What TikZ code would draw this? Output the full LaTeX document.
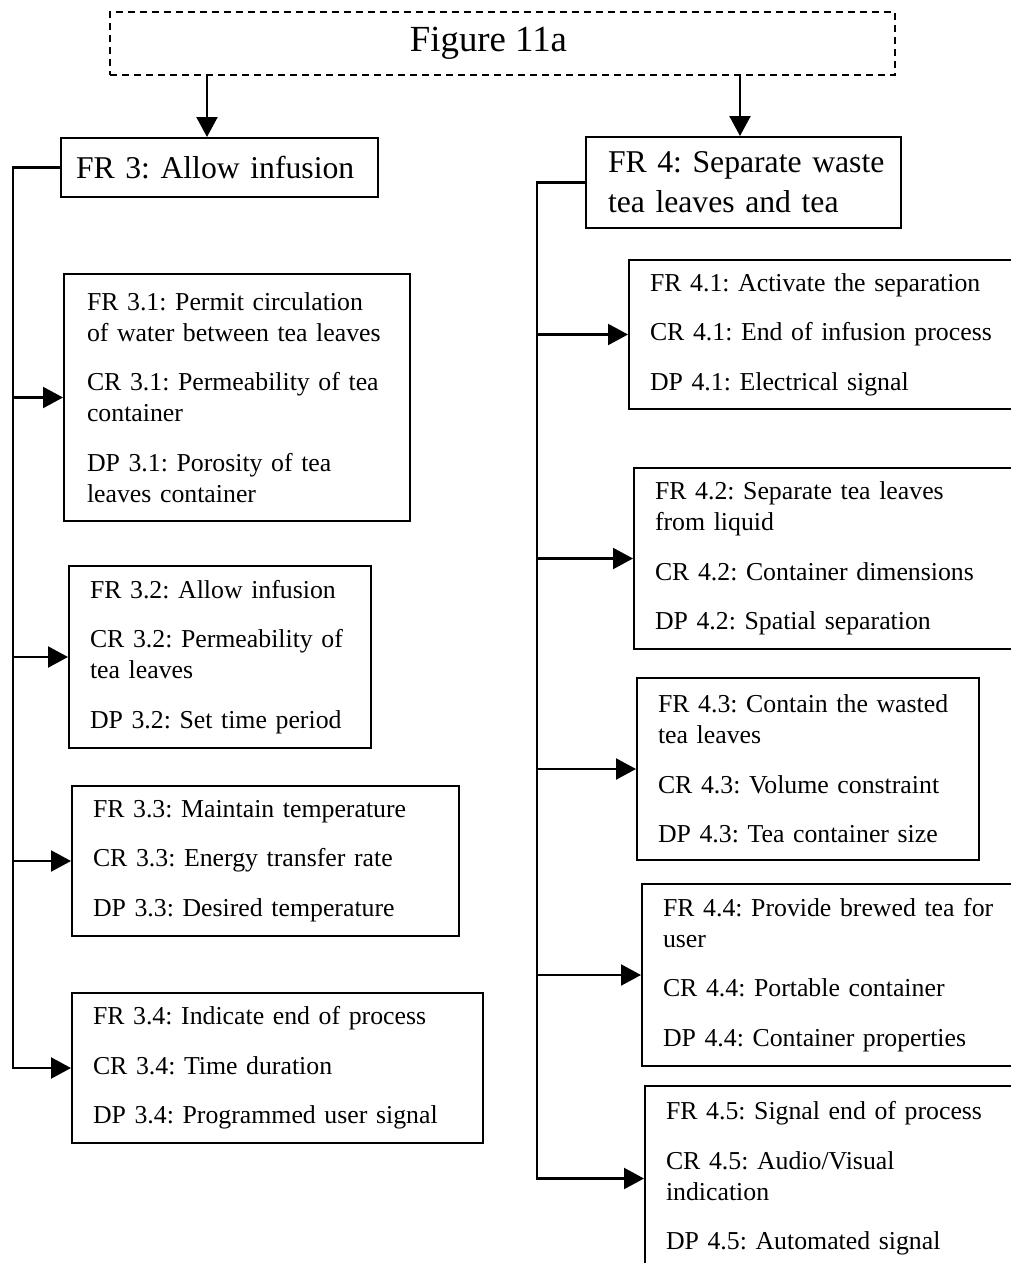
\documentclass[tikz,border=0pt]{standalone}
\usepackage{fontspec}
\setmainfont{Liberation Serif}
\usetikzlibrary{arrows.meta}
\newcommand\boxfont{\fontsize{25.8}{31}\selectfont\frenchspacing}
\newcommand\headfont{\fontsize{31.7}{40}\selectfont\frenchspacing}
\newcommand\titlefont{\fontsize{36.8}{44}\selectfont}
\newcommand\pgap{\\[18.5pt]}
\begin{document}
\begin{tikzpicture}[x=1pt,y=-1pt,
  wire/.style={line width=2.2pt},
  arr/.style={wire,-{Triangle[length=20pt,width=21pt]}},
  frame/.style={draw,line width=2pt,anchor=north west,align=left,inner ysep=0pt},
  req/.style={frame,inner xsep=21pt,font=\boxfont},
  head/.style={frame,font=\headfont}]
\useasboundingbox (0,0) rectangle (1011,1263);
\clip (0,0) rectangle (1011,1263);

% top-level heading
\node[draw,line width=2pt,dash pattern=on 7pt off 5pt,minimum width=785pt,
      minimum height=63pt,inner sep=0pt,font=\titlefont] (title) at (502.5,43.5)
      {\hspace*{-28pt}Figure 11a};

% second-level requirements
\node[head,inner xsep=15pt,text width=287pt,minimum height=59pt] (fr3) at (60,137)
  {\mbox{FR 3: Allow infusion}};
\node[head,inner xsep=22pt,text width=271pt,minimum height=91pt] (fr4) at (585,136)
  {\mbox{FR 4: Separate waste}\\tea leaves and tea};

% FR 3 branch
\node[req,inner xsep=23pt,text width=300pt,minimum height=247pt] (n31) at (63,273)
  {\mbox{FR 3.1: Permit circulation}\\\mbox{of water between tea leaves}\pgap
   \mbox{CR 3.1: Permeability of tea}\\container\pgap
   \mbox{DP 3.1: Porosity of tea}\\leaves container};
\node[req,text width=260pt,minimum height=182pt] (n32) at (68,565)
  {\mbox{FR 3.2: Allow infusion}\pgap
   \mbox{CR 3.2: Permeability of}\\tea leaves\pgap
   \mbox{DP 3.2: Set time period}};
\node[req,text width=345pt,minimum height=150pt] (n33) at (71,785)
  {\mbox{FR 3.3: Maintain temperature}\pgap
   \mbox{CR 3.3: Energy transfer rate}\pgap
   \mbox{DP 3.3: Desired temperature}};
\node[req,text width=369pt,minimum height=150pt] (n34) at (71,992)
  {\mbox{FR 3.4: Indicate end of process}\pgap
   \mbox{CR 3.4: Time duration}\pgap
   \mbox{DP 3.4: Programmed user signal}};

% FR 4 branch
\node[req,text width=360pt,minimum height=149pt] (n41) at (628,259)
  {\mbox{FR 4.1: Activate the separation}\pgap
   \mbox{CR 4.1: End of infusion process}\pgap
   \mbox{DP 4.1: Electrical signal}};
\node[req,text width=358pt,minimum height=181pt] (n42) at (633,467)
  {\mbox{FR 4.2: Separate tea leaves}\\from liquid\pgap
   \mbox{CR 4.2: Container dimensions}\pgap
   \mbox{DP 4.2: Spatial separation}};
\node[req,text width=300pt,minimum height=182pt] (n43) at (636,677)
  {\mbox{FR 4.3: Contain the wasted}\\tea leaves\pgap
   \mbox{CR 4.3: Volume constraint}\pgap
   \mbox{DP 4.3: Tea container size}};
\node[req,text width=348pt,minimum height=182pt] (n44) at (641,883)
  {\mbox{FR 4.4: Provide brewed tea for}\\user\pgap
   \mbox{CR 4.4: Portable container}\pgap
   \mbox{DP 4.4: Container properties}};
\node[req,text width=348pt,minimum height=185pt] (n45) at (644,1085)
  {\mbox{FR 4.5: Signal end of process}\pgap
   \mbox{CR 4.5: Audio/Visual}\\indication\pgap
   \mbox{DP 4.5: Automated signal}};

% connector columns
\coordinate (xL) at (207,0);
\coordinate (xR) at (740,0);
\coordinate (trunkL) at (13,0);
\coordinate (trunkR) at (537,0);

\draw[arr] (title.south -| xL) -- (fr3.north -| xL);
\draw[arr] (title.south -| xR) -- (fr4.north -| xR);

\draw[arr] (fr3.west) -| (trunkL |- n34.west) -- (n34.west);
\foreach \n in {n31,n32,n33}
  \draw[arr] (trunkL |- \n.west) -- (\n.west);

\draw[arr] (fr4.west) -| (trunkR |- n45.west) -- (n45.west);
\foreach \n in {n41,n42,n43,n44}
  \draw[arr] (trunkR |- \n.west) -- (\n.west);
\end{tikzpicture}
\end{document}
